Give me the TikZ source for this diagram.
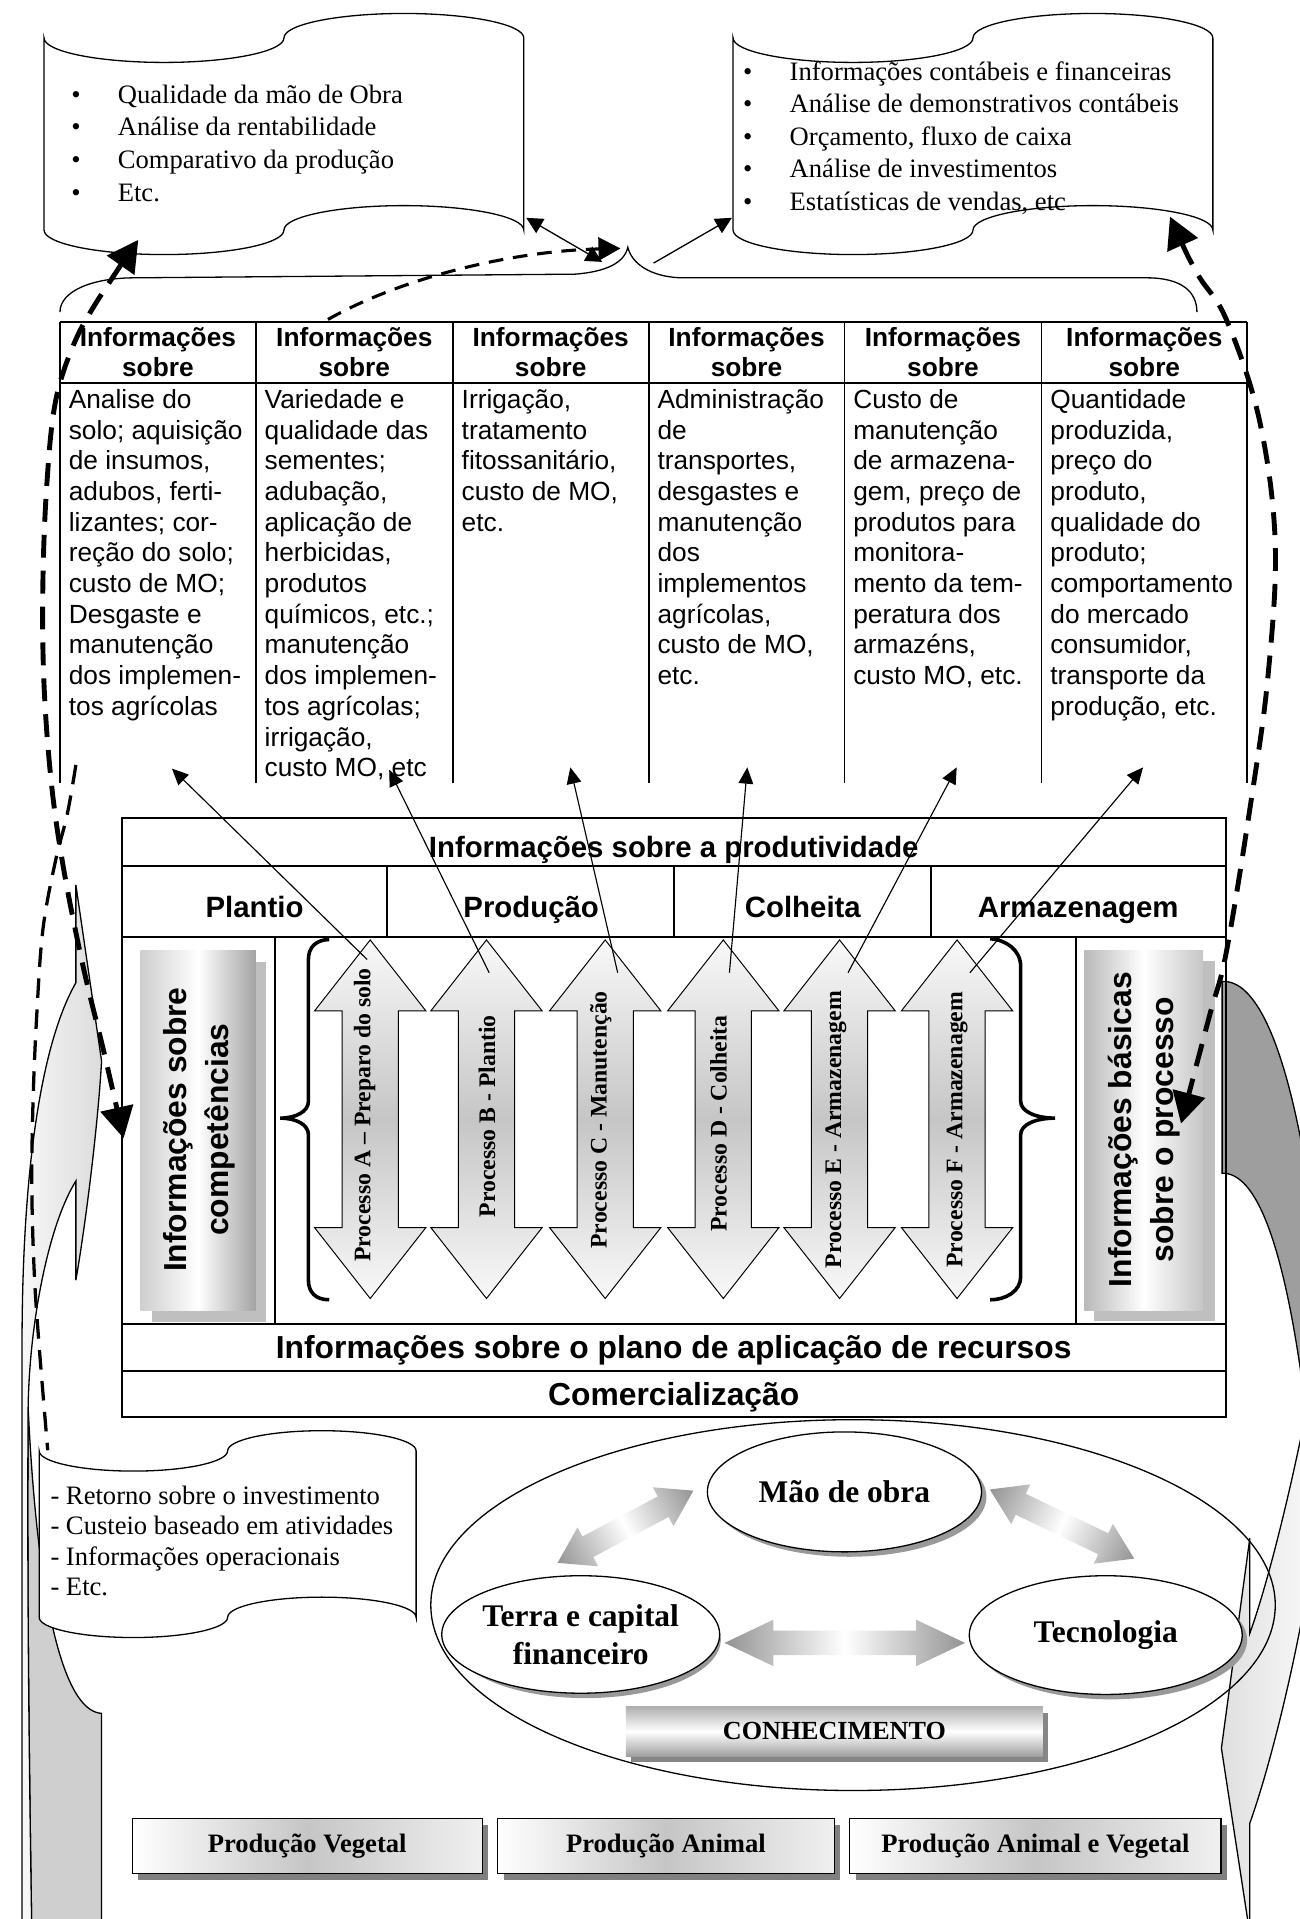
\documentclass[tikz,border=0pt]{standalone}
\usepackage{fontspec}
\setmainfont{Liberation Serif}
\setsansfont{Liberation Sans}
\usepackage{tikz}
\usetikzlibrary{arrows.meta,shapes.geometric}
\usepackage{xcolor}
\definecolor{backgrey}{RGB}{158,158,158}
\newcommand{\tapebullet}{\hbox to 28.5pt{\textbullet\hfil}}

\tikzset{
  tape/.style={draw=black, fill=white, line width=0.8pt},
  tapetxt/.style={anchor=base west, inner sep=0pt, font=\fontsize{16.3}{20}\selectfont},
  tabhead/.style={anchor=north, inner sep=0pt, align=center, font=\sffamily\bfseries\fontsize{16.1}{18.4}\selectfont},
  tabbody/.style={anchor=north west, inner sep=0pt, align=left, font=\sffamily\fontsize{16.1}{18.8}\selectfont},
  rowtxt/.style={anchor=base, inner sep=0pt, font=\sffamily\bfseries\fontsize{18}{21}\selectfont},
  rowtxtbig/.style={anchor=base, inner sep=0pt, font=\sffamily\bfseries\fontsize{19.5}{23}\selectfont},
  sidetxt/.style={rotate=90, inner sep=0pt, align=center, font=\sffamily\bfseries\fontsize{19.5}{25.5}\selectfont},
  proctxt/.style={rotate=90, inner sep=0pt, font=\bfseries\fontsize{14.55}{17}\selectfont},
  procarrow/.style={draw=black, line width=0.6pt, top color=gray!5, bottom color=gray!5, middle color=gray!45},
  ringarrow/.style={left color=gray!85, right color=gray!85, middle color=white},
  ellnode/.style={ellipse, draw=black, fill=white, line width=0.8pt, inner sep=0pt, align=center, font=\bfseries\fontsize{19.3}{23.2}\selectfont},
  prodbox/.style={draw=black, line width=0.8pt, inner sep=0pt, minimum height=33.75pt, left color=white, right color=gray!12, middle color=gray!45, font=\bfseries\fontsize{16.3}{19.6}\selectfont},
  thinarr/.style={-{Triangle[length=10pt,width=9pt]}, line width=0.7pt},
  thickdash/.style={line width=3pt, dash pattern=on 14pt off 8pt},
}

\begin{document}
\begin{tikzpicture}[x=0.75pt,y=0.75pt,yscale=-1,xscale=1]
\useasboundingbox (0,0) rectangle (1062,1568);

%Shape: Curved Arrow, left, back face
\draw [fill=gray!38, line width=0.8pt] (23,1150) .. controls (30,1300) and (50,1398) .. (83,1400) -- (83,1580) -- (26,1580) .. controls (24,1450) and (22,1300) .. (23,1150) -- cycle;
%Shape: Curved Arrow, left, front face
\shadedraw [line width=0.8pt, left color=gray!6, right color=gray!28] (62,723) -- (83,867) .. controls (80,920) and (70,1000) .. (62,1046) -- (62,965) .. controls (40,1000) and (24,1080) .. (23,1150) .. controls (22,1300) and (24,1450) .. (26,1580) -- (18,1580) -- (18,1100) .. controls (18,950) and (35,850) .. (62,803) -- cycle;
%Shape: Curved Arrow, right, back face
\draw [fill=backgrey, line width=0.8pt] (998.6,802) .. controls (1025,800) and (1050,850) .. (1068,960) -- (1068,1160) .. controls (1050,1010) and (1025,958) .. (998.6,958.6) -- cycle;
%Shape: Curved Arrow, right, front face
\shadedraw [line width=0.8pt, left color=gray!25, right color=gray!6] (1021.2,1256.8) -- (1021.2,1334.5) .. controls (1032,1305) and (1050,1240) .. (1068,1150) -- (1068,1300) .. controls (1052,1390) and (1032,1460) .. (1021.2,1489.7) -- (1021.2,1580) -- (998,1428.4) -- cycle;

%Shape: Punched Tape, top left
\draw [tape] (36,31) .. controls (36,42.05) and (79.9,51) .. (134,51) .. controls (188.1,51) and (232,42.05) .. (232,31) .. controls (232,19.95) and (275.9,11) .. (330,11) .. controls (384.1,11) and (428,19.95) .. (428,31) -- (428,188) .. controls (428,176.95) and (384.1,168) .. (330,168) .. controls (275.9,168) and (232,176.95) .. (232,188) .. controls (232,199.05) and (188.1,208) .. (134,208) .. controls (79.9,208) and (36,199.05) .. (36,188) -- cycle;
%Shape: Punched Tape, top right
\draw [tape] (599,31) .. controls (599,42.05) and (642.9,51) .. (697,51) .. controls (751.1,51) and (795,42.05) .. (795,31) .. controls (795,19.95) and (838.9,11) .. (893,11) .. controls (947.1,11) and (991,19.95) .. (991,31) -- (991,188) .. controls (991,176.95) and (947.1,168) .. (893,168) .. controls (838.9,168) and (795,176.95) .. (795,188) .. controls (795,199.05) and (751.1,208) .. (697,208) .. controls (642.9,208) and (599,199.05) .. (599,188) -- cycle;
%Shape: Punched Tape, bottom left
\draw [tape] (32,1185.5) .. controls (32,1194.6) and (66.5,1202) .. (109,1202) .. controls (151.5,1202) and (186,1194.6) .. (186,1185.5) .. controls (186,1176.4) and (220.5,1169) .. (263,1169) .. controls (305.5,1169) and (340,1176.4) .. (340,1185.5) -- (340,1321.5) .. controls (340,1312.4) and (305.5,1305) .. (263,1305) .. controls (220.5,1305) and (186,1312.4) .. (186,1321.5) .. controls (186,1330.6) and (151.5,1338) .. (109,1338) .. controls (66.5,1338) and (32,1330.6) .. (32,1321.5) -- cycle;

% Text Node
\node (tl1) [tapetxt] at (58,84.5) {\tapebullet Qualidade da mão de Obra};
\node (tl2) [tapetxt] at (58,111.1) {\tapebullet Análise da rentabilidade};
\node (tl3) [tapetxt] at (58,137.7) {\tapebullet Comparativo da produção};
\node (tl4) [tapetxt] at (58,164.3) {\tapebullet Etc.};
% Text Node
\node (tr1) [tapetxt] at (607,65.4) {\tapebullet Informações contábeis e financeiras};
\node (tr2) [tapetxt] at (607,92.1) {\tapebullet Análise de demonstrativos contábeis};
\node (tr3) [tapetxt] at (607,118.7) {\tapebullet Orçamento, fluxo de caixa};
\node (tr4) [tapetxt] at (607,145.4) {\tapebullet Análise de investimentos};
\node (tr5) [tapetxt] at (607,172) {\tapebullet Estatísticas de vendas, etc};
% Text Node
\node (bl1) [tapetxt] at (41,1229) {- Retorno sobre o investimento};
\node (bl2) [tapetxt] at (41,1254) {- Custeio baseado em atividades};
\node (bl3) [tapetxt] at (41,1279) {- Informações operacionais};
\node (bl4) [tapetxt] at (41,1304) {- Etc.};

%Curve Lines: brace over the table
\draw [line width=0.8pt] (49,255) .. controls (49,238) and (75,227) .. (110,227) -- (470,224) .. controls (495,222) and (510,215) .. (513,202) .. controls (516,215) and (531,226) .. (556,227) -- (937,227) .. controls (965,227) and (978,238) .. (978,255);

%Straight Lines: table
\draw [line width=1.1pt] (49,263) -- (1019,263) (49,313) -- (1019,313);
\draw [line width=1.1pt] (49,263) -- (49,640) (209,263) -- (209,640) (370,263) -- (370,640) (530,263) -- (530,640) (690,263) -- (690,640) (851,263) -- (851,640) (1019,263) -- (1019,640);

% Text Node
\node (h1) [tabhead] at (129,267) {Informações\\sobre};
\node (h2) [tabhead] at (289.5,267) {Informações\\sobre};
\node (h3) [tabhead] at (450,267) {Informações\\sobre};
\node (h4) [tabhead] at (610,267) {Informações\\sobre};
\node (h5) [tabhead] at (770.5,267) {Informações\\sobre};
\node (h6) [tabhead] at (935,267) {Informações\\sobre};
% Text Node
\node (c1) [tabbody] at (56,318) {Analise do\\solo; aquisição\\de insumos,\\adubos, ferti-\\lizantes; cor-\\reção do solo;\\custo de MO;\\Desgaste e\\manutenção\\dos implemen-\\tos agrícolas};
\node (c2) [tabbody] at (216,318) {Variedade e\\qualidade das\\sementes;\\adubação,\\aplicação de\\herbicidas,\\produtos\\químicos, etc.;\\manutenção\\dos implemen-\\tos agrícolas;\\irrigação,\\custo MO, etc};
\node (c3) [tabbody] at (377,318) {Irrigação,\\tratamento\\fitossanitário,\\custo de MO,\\etc.};
\node (c4) [tabbody] at (537,318) {Administração\\de\\transportes,\\desgastes e\\manutenção\\dos\\implementos\\agrícolas,\\custo de MO,\\etc.};
\node (c5) [tabbody] at (697,318) {Custo de\\manutenção\\de armazena-\\gem, preço de\\produtos para\\monitora-\\mento da tem-\\peratura dos\\armazéns,\\custo MO, etc.};
\node (c6) [tabbody] at (858,318) {Quantidade\\produzida,\\preço do\\produto,\\qualidade do\\produto;\\comportamento\\do mercado\\consumidor,\\transporte da\\produção, etc.};

%Shape: Rectangle, main box
\draw [line width=1.1pt] (100,668.5) rectangle (1001.5,1158);
\draw [line width=1.1pt] (100,707.5) -- (1001.5,707.5) (100,765.5) -- (1001.5,765.5) (100,1081.5) -- (1001.5,1081.5) (100,1120) -- (1001.5,1120);
\draw [line width=1.1pt] (316.5,707.5) -- (316.5,765.5) (551,707.5) -- (551,765.5) (761,707.5) -- (761,765.5) (224.5,765.5) -- (224.5,1081.5) (879,765.5) -- (879,1081.5);

% Text Node
\node (prod) [rowtxt] at (550.5,701) {Informações sobre a produtividade};
\node (plantio) [rowtxt] at (208,750) {Plantio};
\node (producao) [rowtxt] at (434,750) {Produção};
\node (colheita) [rowtxt] at (656,750) {Colheita};
\node (armaz) [rowtxt] at (881,750) {Armazenagem};
\node (plano) [rowtxtbig] at (550.5,1110) {Informações sobre o plano de aplicação de recursos};
\node (comerc) [rowtxtbig] at (550.5,1148) {Comercialização};

%Shape: side boxes with shadow
\fill [gray!50] (124,786) rectangle (217,1080);
\shade [left color=gray!38, right color=gray!72, middle color=white] (115,777) rectangle (209,1071);
\node (compet) [sidetxt] at (163,923) {Informações sobre\\competências};
\fill [gray!50] (894,785) rectangle (993,1079);
\shade [left color=gray!55, right color=gray!45, middle color=white] (886,777) rectangle (983,1071);
\node (basicas) [sidetxt] at (935,923) {Informações básicas\\sobre o processo};

%Curve Lines: braces
\draw [line width=2.2pt] (269,767.6) .. controls (258,768) and (252,774) .. (252,784) -- (252,900) .. controls (252,908) and (242,913.6) .. (229,913.6) .. controls (242,913.6) and (252,919) .. (252,927) -- (252,1046) .. controls (252,1056) and (258,1062) .. (269,1062);
\draw [line width=2.2pt] (809,767) .. controls (822,768) and (834,776) .. (834,790) -- (834,900) .. controls (834,908) and (846,913.6) .. (862,913.6) .. controls (846,913.6) and (834,919) .. (834,927) -- (834,1043) .. controls (834,1055) and (822,1062) .. (809,1062);

%Shape: Up-Down Arrows
\path [procarrow] (302.5,768) -- (348,826) -- (325.5,826) -- (325.5,1003) -- (348,1003) -- (302.5,1061) -- (257,1003) -- (279.5,1003) -- (279.5,826) -- (257,826) -- cycle;
\path [procarrow] (397.5,768) -- (443,826) -- (420.5,826) -- (420.5,1003) -- (443,1003) -- (397.5,1061) -- (352,1003) -- (374.5,1003) -- (374.5,826) -- (352,826) -- cycle;
\path [procarrow] (494.5,768) -- (540,826) -- (517.5,826) -- (517.5,1003) -- (540,1003) -- (494.5,1061) -- (449,1003) -- (471.5,1003) -- (471.5,826) -- (449,826) -- cycle;
\path [procarrow] (591,768) -- (636.5,826) -- (614,826) -- (614,1003) -- (636.5,1003) -- (591,1061) -- (545.5,1003) -- (568,1003) -- (568,826) -- (545.5,826) -- cycle;
\path [procarrow] (686,768) -- (731.5,826) -- (709,826) -- (709,1003) -- (731.5,1003) -- (686,1061) -- (640.5,1003) -- (663,1003) -- (663,826) -- (640.5,826) -- cycle;
\path [procarrow] (782,768) -- (827.5,826) -- (805,826) -- (805,1003) -- (827.5,1003) -- (782,1061) -- (736.5,1003) -- (759,1003) -- (759,826) -- (736.5,826) -- cycle;

% Text Node
\node (procA) [proctxt] at (298,911) {Processo A – Preparo do solo};
\node (procB) [proctxt] at (398,912) {Processo B - Plantio};
\node (procC) [proctxt] at (491,915) {Processo C - Manutenção};
\node (procD) [proctxt] at (587,918) {Processo D - Colheita};
\node (procE) [proctxt] at (683,923) {Processo E - Armazenagem};
\node (procF) [proctxt] at (782,923) {Processo F - Armazenagem};

%Shape: Ellipse, resources
\draw [line width=0.8pt] (697,1311.5) ellipse (345 and 151.5);
\fill [gray!80] (694,1223) ellipse (112 and 49);
\node (mao) [ellnode, minimum width=168pt, minimum height=73.5pt] at (690,1219) {Mão de obra};
\fill [gray!80] (907.5,1340) ellipse (111.5 and 48.5);
\node (tecno) [ellnode, minimum width=167.25pt, minimum height=72.75pt] at (903.5,1336) {Tecnologia};
\fill [gray!80] (478.5,1339.5) ellipse (110.5 and 48);
\node (terra) [ellnode, minimum width=165.75pt, minimum height=72pt] at (474.5,1335.5) {Terra e capital\\financeiro};

%Shape: Left-Right Arrows
\path [ringarrow] (592,1342.4) -- (632,1323.4) -- (632,1332.4) -- (748.5,1332.4) -- (748.5,1323.4) -- (788.5,1342.4) -- (748.5,1361.4) -- (748.5,1352.4) -- (632,1352.4) -- (632,1361.4) -- cycle;
\begin{scope}[transform canvas={shift={(341.7pt,-957.75pt)}, rotate=28}]
\path [ringarrow] (0,0) -- (28,-18) -- (28,-9.5) -- (97.7,-9.5) -- (97.7,-18) -- (125.7,0) -- (97.7,18) -- (97.7,9.5) -- (28,9.5) -- (28,18) -- cycle;
\end{scope}
\begin{scope}[transform canvas={shift={(606.6pt,-912.75pt)}, rotate=-25.6}]
\path [ringarrow] (0,0) -- (28,-18) -- (28,-9.5) -- (102.8,-9.5) -- (102.8,-18) -- (130.8,0) -- (102.8,18) -- (102.8,9.5) -- (28,9.5) -- (28,18) -- cycle;
\end{scope}

%Shape: Rectangle, knowledge
\fill [gray!95] (515.5,1399.5) rectangle (856,1440);
\node (conhec) [inner sep=0pt, minimum width=255.4pt, minimum height=30.4pt, top color=gray!62, bottom color=gray!75, middle color=white, font=\bfseries\fontsize{16}{19}\selectfont] at (681.75,1414.75) {CONHECIMENTO};

%Shape: Rectangle, production
\fill [gray] (113,1491) rectangle (399,1536);
\node (pveg) [prodbox, minimum width=214.5pt] at (251,1508.5) {Produção Vegetal};
\fill [gray] (411.5,1491) rectangle (686.7,1536);
\node (panim) [prodbox, minimum width=206.4pt] at (544.1,1508.5) {Produção Animal};
\fill [gray] (699.3,1491) rectangle (1002.8,1536);
\node (pboth) [prodbox, minimum width=227.6pt] at (846,1508.5) {Produção Animal e Vegetal};

%Straight Lines: from the processes to the table
\coordinate (sA) at (300,784);   \coordinate (tA) at (140.5,628);
\coordinate (sB) at (399.7,794.8); \coordinate (tB) at (318,629);
\coordinate (sC) at (504.7,794.8); \coordinate (tC) at (466,627);
\coordinate (sD) at (596,794.8);   \coordinate (tD) at (610.6,627);
\coordinate (sE) at (692.9,794.8); \coordinate (tE) at (781.7,627);
\coordinate (sF) at (792.5,794.8); \coordinate (tF) at (934,627);
\draw [thinarr] (sA) -- (tA);
\draw [thinarr] (sB) -- (tB);
\draw [thinarr] (sC) -- (tC);
\draw [thinarr] (sD) -- (tD);
\draw [thinarr] (sE) -- (tE);
\draw [thinarr] (sF) -- (tF);

%Straight Lines: around the brace tip
\coordinate (tlc) at (430,178); \coordinate (btl) at (492,214);
\coordinate (btr) at (534,215); \coordinate (trc) at (598,178);
\draw [{Triangle[length=10pt,width=10pt]}-{Triangle[length=10pt,width=10pt]}, line width=0.8pt] (tlc) -- (btl);
\draw [-{Triangle[length=10pt,width=10pt]}, line width=0.8pt] (btr) -- (trc);

%Curve Lines: dashed
\coordinate (t2) at (268,261); \coordinate (btip) at (507,203);
\draw [line width=1.9pt, dash pattern=on 9pt off 6pt, -{Triangle[length=13.5pt,width=14pt]}] (t2) .. controls (330,226) and (420,205) .. (btip);
\coordinate (ltop) at (113,196); \coordinate (lbot) at (101,930);
\draw [thickdash, {Triangle[length=19pt,width=20pt]}-{Triangle[length=19pt,width=20pt]}] plot [smooth, tension=0.6] coordinates {(ltop) (80,245) (60,282) (45,330) (38,400) (35,480) (36,560) (42,640) (52,710) (68,790) (85,860) (lbot)};
\coordinate (rtop) at (956,177); \coordinate (rbot) at (965,918);
\draw [thickdash, {Triangle[length=19pt,width=20pt]}-{Triangle[length=19pt,width=20pt]}] plot [smooth, tension=0.6] coordinates {(rtop) (978,223) (1002,261) (1029,343) (1042,444) (1036,553) (1022,656) (1002,778) (988,831) (rbot)};
\coordinate (c1foot) at (62,625); \coordinate (bltop) at (39,1185);
\draw [line width=2pt, dash pattern=on 12pt off 7pt] plot [smooth, tension=0.6] coordinates {(c1foot) (55,665) (45,705) (35,760) (30,830) (27,900) (26,970) (28,1040) (32,1100) (bltop)};

\end{tikzpicture}
\end{document}
